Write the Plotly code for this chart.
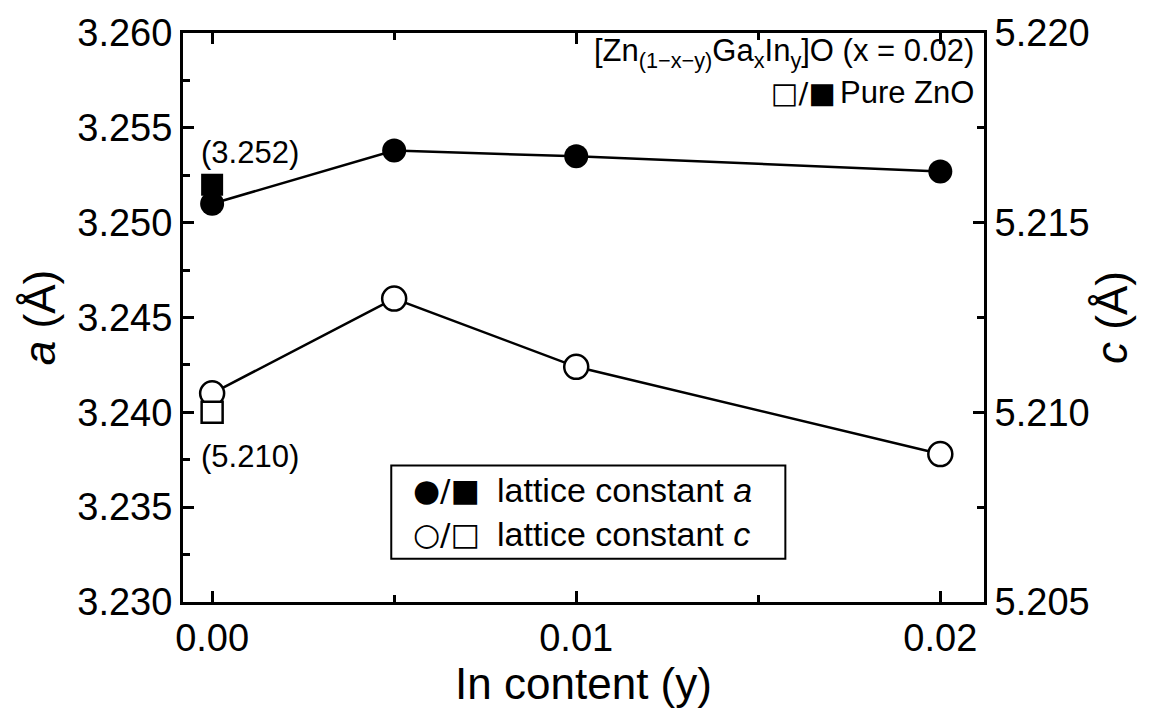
import plotly.graph_objects as go

# ---- data ----
in_content = [0.0, 0.005, 0.01, 0.02]
lattice_a = [3.2510, 3.2538, 3.2535, 3.2527]
lattice_c = [5.2105, 5.2130, 5.2112, 5.2089]
pure_x = [0.0]
pure_a = [3.252]
pure_c = [5.210]

FONT = "Liberation Sans, Arial, sans-serif"
SYM = "DejaVu Sans, sans-serif"

fig = go.Figure()

# lattice constant a (left axis)
fig.add_trace(go.Scatter(x=in_content, y=lattice_a, mode="lines+markers",
                         line=dict(color="black", width=2.5),
                         marker=dict(symbol="circle", size=24, color="black"),
                         showlegend=False))
fig.add_trace(go.Scatter(x=pure_x, y=pure_a, mode="markers",
                         marker=dict(symbol="square", size=22, color="black"),
                         showlegend=False))
# lattice constant c (right axis)
fig.add_trace(go.Scatter(x=in_content, y=lattice_c, mode="lines+markers", yaxis="y2",
                         line=dict(color="black", width=2.5),
                         marker=dict(symbol="circle", size=24, color="white",
                                     line=dict(color="black", width=2.5)),
                         showlegend=False))
fig.add_trace(go.Scatter(x=pure_x, y=pure_c, mode="markers", yaxis="y2",
                         marker=dict(symbol="square", size=21, color="white",
                                     line=dict(color="black", width=2.5)),
                         showlegend=False))

axis_common = dict(showline=True, linecolor="black", linewidth=3,
                   ticks="inside", tickcolor="black", tickwidth=3, ticklen=11,
                   showgrid=False, zeroline=False,
                   tickfont=dict(family=FONT, size=38, color="black"))

fig.update_layout(
    width=1164, height=722,
    margin=dict(l=183, r=180, t=26, b=120),
    plot_bgcolor="white", paper_bgcolor="white",
    font=dict(family=FONT, color="black"),
    xaxis=dict(range=[-0.0008, 0.0212], tickvals=[0.0, 0.01, 0.02], tickformat=".2f",
               mirror="ticks",
               minor=dict(tickvals=[0.005, 0.015], ticks="inside", ticklen=7,
                          tickwidth=3, tickcolor="black"),
               title=dict(text="In content (y)", font=dict(family=FONT, size=44), standoff=10),
               **axis_common),
    yaxis=dict(range=[3.23, 3.26], tickvals=[3.230, 3.235, 3.240, 3.245, 3.250, 3.255, 3.260],
               tickformat=".3f",
               minor=dict(dtick=0.0025, tick0=3.23, ticks="inside", ticklen=7,
                          tickwidth=3, tickcolor="black"),
               title=dict(text="<i>a</i> (Å)", font=dict(family=FONT, size=44), standoff=8),
               **axis_common),
    yaxis2=dict(range=[5.205, 5.220], overlaying="y", side="right",
                tickvals=[5.205, 5.210, 5.215, 5.220], tickformat=".3f",
                minor=dict(dtick=0.0025, tick0=5.205, ticks="inside", ticklen=7,
                           tickwidth=3, tickcolor="black"),
                title=dict(text="<i>c</i> (Å)", font=dict(family=FONT, size=44), standoff=8),
                **axis_common),
)

ann_font = dict(family=FONT, size=31, color="black")
fig.add_annotation(xref="paper", yref="paper", x=0.99, y=0.965, xanchor="right", yanchor="middle",
                   text="[Zn<sub>(1−x−y)</sub>Ga<sub>x</sub>In<sub>y</sub>]O (x = 0.02)",
                   showarrow=False, font=ann_font)
fig.add_annotation(xref="paper", yref="paper", x=0.99, y=0.895, xanchor="right", yanchor="middle",
                   text="Pure ZnO", showarrow=False, font=ann_font)
fig.add_annotation(xref="paper", yref="paper", x=0.818, y=0.894, xanchor="right", yanchor="middle",
                   text="□/■", showarrow=False, font=dict(family=SYM, size=29, color="black"))
fig.add_annotation(xref="paper", yref="paper", x=0.02, y=0.79, xanchor="left", yanchor="middle",
                   text="(3.252)", showarrow=False, font=ann_font)
fig.add_annotation(xref="paper", yref="paper", x=0.02, y=0.255, xanchor="left", yanchor="middle",
                   text="(5.210)", showarrow=False, font=ann_font)

# legend box
fig.add_shape(type="rect", xref="paper", yref="paper", x0=0.26, x1=0.752, y0=0.076, y1=0.24,
              line=dict(color="black", width=2), fillcolor="white", layer="above")
fig.add_annotation(xref="paper", yref="paper", x=0.285, y=0.197, xanchor="left", yanchor="middle",
                   text="●/■", showarrow=False, font=dict(family=SYM, size=31, color="black"))
fig.add_annotation(xref="paper", yref="paper", x=0.285, y=0.119, xanchor="left", yanchor="middle",
                   text="○/□", showarrow=False, font=dict(family=SYM, size=31, color="black"))
fig.add_annotation(xref="paper", yref="paper", x=0.39, y=0.197, xanchor="left", yanchor="middle",
                   text="lattice constant <i>a</i>", showarrow=False, font=dict(family=FONT, size=34))
fig.add_annotation(xref="paper", yref="paper", x=0.39, y=0.119, xanchor="left", yanchor="middle",
                   text="lattice constant <i>c</i>", showarrow=False, font=dict(family=FONT, size=34))

fig.write_html("out.html")
